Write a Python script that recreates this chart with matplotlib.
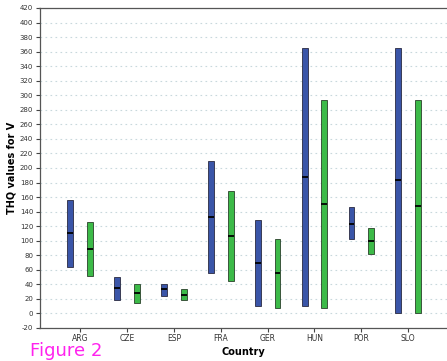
import numpy as np
import matplotlib
matplotlib.use("Agg")
from matplotlib import pyplot as plt

countries = ['ARG', 'CZE', 'ESP', 'FRA', 'GER', 'HUN', 'POR', 'SLO']

# blue series: min, max, median
blue_low = [64, 19, 24, 55, 10, 10, 102, 0]
blue_high = [156, 50, 40, 210, 128, 365, 147, 365]
blue_med = [110, 35, 33, 133, 69, 187, 123, 183]

# green series: min, max, median
green_low = [51, 15, 19, 45, 8, 8, 82, 0]
green_high = [126, 40, 33, 169, 103, 294, 118, 294]
green_med = [89, 28, 26, 107, 55, 151, 100, 148]

y_ticks = list(range(-20, 421, 20))

fig = plt.figure(figsize=(4.47, 3.61), dpi=100)
ax = fig.add_axes([39.5 / 447, 1 - 328 / 361, 1 - 39.5 / 447, 320 / 361])

x = np.arange(len(countries))
off = 0.21
w = 0.125

ax.bar(x - off, np.array(blue_high) - np.array(blue_low), bottom=blue_low, width=w,
       color='#3a55a8', edgecolor='#2a2a40', linewidth=0.6, zorder=3)
ax.bar(x + off, np.array(green_high) - np.array(green_low), bottom=green_low, width=w,
       color='#3cba48', edgecolor='#2a402a', linewidth=0.6, zorder=3)
ax.hlines(blue_med, x - off - w / 2, x - off + w / 2, color='black', linewidth=1.3, zorder=4)
ax.hlines(green_med, x + off - w / 2, x + off + w / 2, color='black', linewidth=1.3, zorder=4)

ax.set_xlim(-0.87, 7.83)
ax.set_ylim(-20, 420)
ax.set_yticks(y_ticks)
ax.set_yticklabels([str(t) for t in y_ticks], fontsize=5, color='#333333')
ax.set_xticks(x)
ax.set_xticklabels(countries, fontsize=5.5, color='#333333')
ax.tick_params(axis='both', length=3, width=0.8, pad=1.5, color='#444444')

ax.yaxis.grid(True, linestyle=(0, (1.5, 3)), color='#c8d8dc', linewidth=0.8, zorder=0)
ax.set_axisbelow(True)
ax.spines['right'].set_visible(False)
for s in ['left', 'bottom', 'top']:
    ax.spines[s].set_color('#555555')
    ax.spines[s].set_linewidth(0.9)

ax.set_ylabel('THQ values for V', fontsize=7, fontweight='bold', labelpad=2)
ax.set_xlabel('Country', fontsize=7, fontweight='bold', labelpad=3)

fig.text(30 / 447, 0.5 / 361, 'Figure 2', fontsize=13, color='#ff22ee', va='bottom')

fig.savefig('out.png', dpi=100)
